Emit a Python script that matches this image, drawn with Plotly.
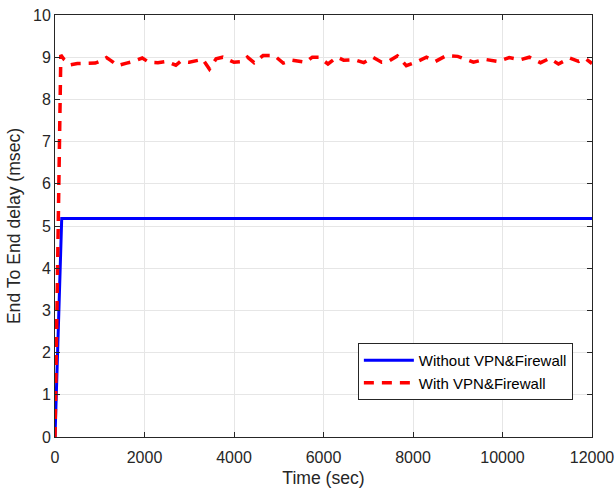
import plotly.graph_objects as go

# Data
blue_t = [0, 150, 12000]
blue_v = [0, 5.18, 5.18]

red_t = [0, 130, 200, 350, 500, 700, 900, 1000, 1150, 1250, 1400, 1600, 1750, 1950,
         2100, 2300, 2500, 2700, 2800, 3000, 3300, 3450, 3600, 3750, 4000, 4200, 4300,
         4450, 4650, 4900, 5100, 5300, 5600, 5750, 5900, 6100, 6300, 6450, 6700, 6900,
         7100, 7300, 7450, 7650, 7850, 8100, 8300, 8500, 8750, 9000, 9200, 9350, 9600,
         9900, 10150, 10400, 10600, 10850, 11050, 11250, 11500, 11700, 11850, 12000]
red_v = [0, 9.05, 8.95, 8.82, 8.85, 8.86, 8.86, 8.9, 8.99, 8.92, 8.80, 8.86, 8.9, 8.98,
         8.88, 8.87, 8.9, 8.81, 8.9, 8.88, 8.95, 8.72, 8.96, 9.0, 8.88, 8.9, 9.0,
         8.87, 9.04, 9.04, 8.86, 8.93, 8.88, 9.0, 9.0, 8.84, 9.0, 8.93, 8.94, 8.87,
         9.0, 8.88, 8.9, 9.03, 8.8, 8.9, 9.0, 8.9, 9.04, 9.02, 8.93, 8.88, 8.95,
         8.9, 8.99, 8.94, 9.0, 8.87, 8.97, 8.84, 8.98, 8.9, 8.97, 8.85]

x_ticks = [0, 2000, 4000, 6000, 8000, 10000, 12000]
x_labels = ["0", "2000", "4000", "6000", "8000", "10000", "12000"]
y_ticks = list(range(0, 11))
y_labels = [str(v) for v in y_ticks]

FONT = "Liberation Sans, Arial, sans-serif"
TXT = "#262626"

fig = go.Figure()
fig.add_trace(go.Scatter(x=blue_t, y=blue_v, mode="lines", name="Without VPN&Firewall",
                         line=dict(color="#0000ff", width=3)))
fig.add_trace(go.Scatter(x=red_t, y=red_v, mode="lines", name="With VPN&Firewall",
                         line=dict(color="#ff0000", width=3.5, dash="10px,8px")))

axis_common = dict(
    showline=True, linecolor=TXT, linewidth=1, mirror="ticks",
    ticks="inside", ticklen=5, tickcolor=TXT,
    showgrid=True, gridcolor="#e6e6e6", gridwidth=1, zeroline=False,
    tickfont=dict(family=FONT, size=16, color=TXT),
)

fig.update_xaxes(range=[0, 12000], tickvals=x_ticks, ticktext=x_labels,
                 ticklabelstandoff=6, automargin=False,
                 title=dict(text="Time (sec)", font=dict(family=FONT, size=17.6, color=TXT)),
                 **axis_common)
fig.update_yaxes(range=[0, 10], tickvals=y_ticks, ticktext=y_labels,
                 automargin="left",
                 title=dict(text="End To End delay (msec)", standoff=7,
                            font=dict(family=FONT, size=17.6, color=TXT)),
                 **axis_common)

fig.update_layout(
    width=615, height=488,
    margin=dict(l=55, r=23, t=15, b=51),
    plot_bgcolor="white", paper_bgcolor="white",
    showlegend=True,
    legend=dict(x=0.564, y=0.155, xanchor="left", yanchor="middle",
                bgcolor="white", bordercolor=TXT, borderwidth=1,
                font=dict(family=FONT, size=15, color="#000000"),
                tracegroupgap=0, itemwidth=50),
)

fig.write_html("out.html", config={"displayModeBar": False},
               post_script="document.body.style.margin='0';")
